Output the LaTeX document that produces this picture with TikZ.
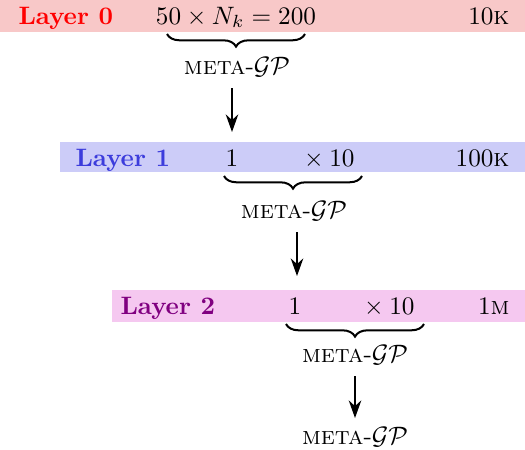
\documentclass[tikz,border=0pt]{standalone}
\usetikzlibrary{decorations.pathreplacing,arrows.meta}
\newcommand\metagp{\textsc{meta}-$\mathcal{GP}$}
\definecolor{lblue}{RGB}{60,60,220}
\definecolor{barred}{RGB}{248,200,200}
\definecolor{barblue}{RGB}{204,204,248}
\definecolor{barmag}{RGB}{245,200,240}
\begin{document}
\begin{tikzpicture}[x=0.3968pt,y=-0.3968pt,
  bar0/.style={fill=barred},
  bar1/.style={fill=barblue},
  bar2/.style={fill=barmag},
  lbl/.style={anchor=base west,inner sep=0pt,font=\bfseries},
  txt/.style={anchor=base,inner sep=0pt},
  rtxt/.style={anchor=base east,inner sep=0pt},
  mg/.style={inner sep=0pt},
  brc/.style={decorate,decoration={brace,mirror,amplitude=5pt},thick},
  arr/.style={-{Stealth[length=7pt,width=5pt]},semithick}]
\useasboundingbox (0,0) rectangle (525,449);
\fill[bar0] (0,0) rectangle (525,32);
\fill[bar1] (60,142) rectangle (525,172);
\fill[bar2] (112,290) rectangle (525,322);
% layer 0
\node[lbl,text=red] (l0) at (18,24) {Layer 0};
\node[txt] (f0) at (236,24) {$50\times N_k=200$};
\node[rtxt] (n0) at (510,24) {10\textsc{k}};
\coordinate (b0l) at (167,34);
\coordinate (b0r) at (305,34);
\draw[brc] (b0l) -- (b0r);
\node[mg] (m0) at (237,67) {\metagp};
\coordinate (a0s) at (232,88);
\coordinate (a0e) at (232,132);
\draw[arr] (a0s) -- (a0e);
% layer 1
\node[lbl,text=lblue] (l1) at (75,166) {Layer 1};
\node[txt] (o1) at (232,166) {$1$};
\node[rtxt] (x1) at (355,166) {${}\times10$};
\node[rtxt] (n1) at (510,166) {100\textsc{k}};
\coordinate (b1l) at (224,176);
\coordinate (b1r) at (362,176);
\draw[brc] (b1l) -- (b1r);
\node[mg] (m1) at (294,211) {\metagp};
\coordinate (a1s) at (297,232);
\coordinate (a1e) at (297,276);
\draw[arr] (a1s) -- (a1e);
% layer 2
\node[lbl,text=violet] (l2) at (120,314) {Layer 2};
\node[txt] (o2) at (295,314) {$1$};
\node[rtxt] (x2) at (415,314) {${}\times10$};
\node[rtxt] (n2) at (510,314) {1\textsc{m}};
\coordinate (b2l) at (286,324);
\coordinate (b2r) at (424,324);
\draw[brc] (b2l) -- (b2r);
\node[mg] (m2) at (355,355) {\metagp};
\coordinate (a2s) at (355,376);
\coordinate (a2e) at (355,418);
\draw[arr] (a2s) -- (a2e);
\node[mg] (m3) at (355,437) {\metagp};
\end{tikzpicture}
\end{document}
